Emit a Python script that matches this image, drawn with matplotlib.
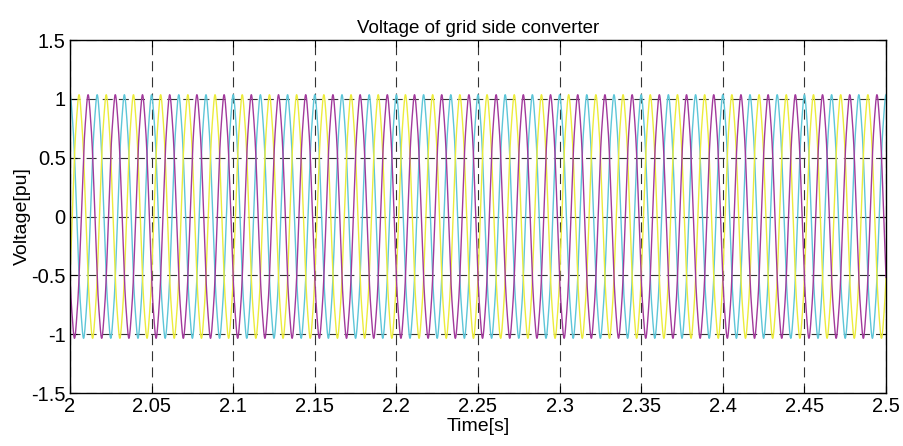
import matplotlib
matplotlib.use("Agg")
import matplotlib.pyplot as plt
import numpy as np

plt.rcParams['font.family'] = ['Liberation Sans', 'DejaVu Sans']

# signal parameters (60 Hz, three phases)
freq = 60.0
amplitude = 1.01
t_start, t_end = 2.0, 2.5
phase_deg = [0, -120, 120]          # cyan leads, then yellow, then magenta
phase_colors = ['#5ec6d8', '#ecec3c', '#a23a9c']
harm_order = [5, 7]
harm_amp = [0.015, 0.01]

xticks = [2, 2.05, 2.1, 2.15, 2.2, 2.25, 2.3, 2.35, 2.4, 2.45, 2.5]
xtick_labels = ['2', '2.05', '2.1', '2.15', '2.2', '2.25', '2.3', '2.35', '2.4', '2.45', '2.5']
yticks = [-1.5, -1, -0.5, 0, 0.5, 1, 1.5]
ytick_labels = ['-1.5', '-1', '-0.5', '0', '0.5', '1', '1.5']


def main():
    t = np.linspace(t_start, t_end, 6000)
    fig = plt.figure(figsize=(9.04, 4.46), dpi=100)
    ax = fig.add_axes([0.0774, 0.1188, 0.9027, 0.7915])

    for ph, col in zip(phase_deg, phase_colors):
        w = 2 * np.pi * freq * t + np.deg2rad(ph)
        v = amplitude * np.cos(w)
        for n, a in zip(harm_order, harm_amp):
            v = v + a * np.cos(n * w)
        ax.plot(t, v, color=col, linewidth=1.0)

    ax.set_xlim(t_start, t_end)
    ax.set_ylim(-1.5, 1.5)
    ax.set_xticks(xticks)
    ax.set_xticklabels(xtick_labels)
    ax.set_yticks(yticks)
    ax.set_yticklabels(ytick_labels)
    ax.grid(True, color='#333333', linestyle=(0, (9, 5.5)), linewidth=0.8)
    ax.tick_params(direction='in', top=True, right=True, labelsize=14.5, length=5, pad=3)
    for s in ax.spines.values():
        s.set_linewidth(1.0)
    ax.set_title('Voltage of grid side converter', fontsize=13.5, pad=5)
    ax.set_xlabel('Time[s]', fontsize=14, labelpad=1)
    ax.set_ylabel('Voltage[pu]', fontsize=14, labelpad=0)

    fig.savefig('out.png', dpi=100)


if __name__ == "__main__":
    main()
